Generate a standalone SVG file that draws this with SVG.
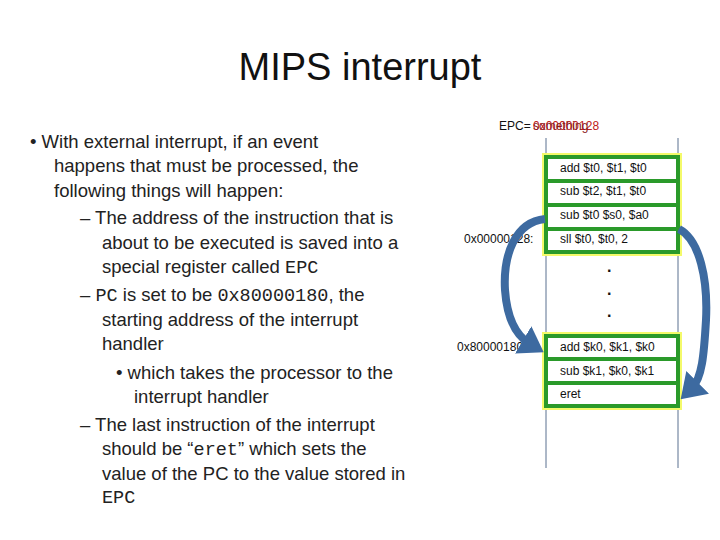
<svg xmlns="http://www.w3.org/2000/svg" width="720" height="540" viewBox="0 0 720 540">
<style>
.t{font-family:"Liberation Sans",Arial,sans-serif;font-size:18.5px;fill:#222}
.m{font-family:"Liberation Mono",monospace}
.s{font-family:"Liberation Sans",Arial,sans-serif;font-size:12px;fill:#111}
.box{fill:#fff;stroke:#2a9a2a;stroke-width:4}
.glow{fill:none;stroke:#f4fa6a;stroke-width:8}
.arr{fill:none;stroke:#3d6aa0;stroke-width:8}
</style>
<defs>
<marker id="ah2" markerWidth="3" markerHeight="4" refX="1" refY="2" orient="auto" markerUnits="strokeWidth"><path d="M0,0 L3,2 L0,4z" fill="#3d6aa0"/></marker></defs>
<rect width="720" height="540" fill="#fff"/>
<text x="360" y="80" text-anchor="middle" font-family="Liberation Sans,Arial,sans-serif" font-size="38" fill="#111">MIPS interrupt</text>
<g id="bullets">
<text x="30" y="148" class="t">•  With external interrupt, if an event</text>
<text x="54" y="172" class="t">happens that must be processed, the</text>
<text x="54" y="197" class="t">following things will happen:</text>
<text x="80" y="224" class="t">– The address of the instruction that is</text>
<text x="102" y="249" class="t">about to be executed is saved into a</text>
<text x="102" y="273" class="t">special register called <tspan class="m">EPC</tspan></text>
<text x="80" y="301" class="t">– <tspan class="m">PC</tspan> is set to be <tspan class="m">0x80000180</tspan>, the</text>
<text x="102" y="326" class="t">starting address of the interrupt</text>
<text x="102" y="350" class="t">handler</text>
<text x="116" y="379" class="t">•  which takes the processor to the</text>
<text x="134" y="403" class="t">interrupt handler</text>
<text x="80" y="431" class="t">– The last instruction of the interrupt</text>
<text x="102" y="455" class="t">should be “<tspan class="m">eret</tspan>” which sets the</text>
<text x="102" y="480" class="t">value of the PC to the value stored in</text>
<text x="102" y="503" class="t m">EPC</text>
</g>
<g id="epc"><text x="499" y="130" class="s">EPC=</text><text x="533" y="130" class="s" style="fill:#c02020">0x00000128</text><text x="533" y="130" class="s" style="fill:#8a1a1a">something</text></g>
<g id="lines" stroke="#5a7090" stroke-width="1"><line x1="546" y1="138" x2="546" y2="468"/><line x1="678" y1="138" x2="678" y2="468"/></g>
<g id="mem1">
<rect x="546" y="157" width="132" height="95" class="glow"/>
<rect x="546" y="157" width="132" height="24" class="box"/>
<rect x="546" y="181" width="132" height="24" class="box"/>
<rect x="546" y="205" width="132" height="24" class="box"/>
<rect x="546" y="229" width="132" height="23" class="box"/>
<text x="560" y="172" class="s">add $t0, $t1, $t0</text>
<text x="560" y="195" class="s">sub $t2, $t1, $t0</text>
<text x="560" y="219" class="s">sub $t0 $s0, $a0</text>
<text x="560" y="243" class="s">sll $t0, $t0, 2</text>
<text x="464" y="243" class="s">0x00000128:</text>
</g>
<g id="dots" font-family="Liberation Sans,Arial,sans-serif" font-size="16" font-weight="bold" fill="#111"><text x="607" y="272">.</text><text x="607" y="295">.</text><text x="607" y="317">.</text></g>
<g id="mem2">
<rect x="546" y="336" width="132" height="70" class="glow"/>
<rect x="546" y="336" width="132" height="23" class="box"/>
<rect x="546" y="359" width="132" height="24" class="box"/>
<rect x="546" y="383" width="132" height="23" class="box"/>
<text x="560" y="351" class="s">add $k0, $k1, $k0</text>
<text x="560" y="375" class="s">sub $k1, $k0, $k1</text>
<text x="560" y="398" class="s">eret</text>
<text x="457" y="351" class="s">0x80000180:</text>
</g>
<g id="connectors">
<path class="arr" d="M545,219 C515,222 503,255 505,290 C507,318 515,335 530,344" marker-end="url(#ah2)"/>
<path class="arr" d="M679,229 C700,240 708,280 706,320 C704,355 702,378 692,388" marker-end="url(#ah2)"/>
</g>
</svg>
